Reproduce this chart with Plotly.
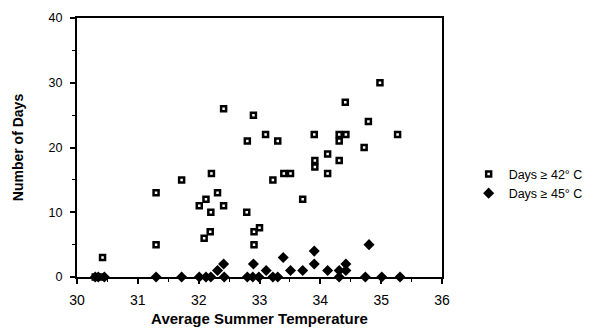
import plotly.graph_objects as go

# Days >= 42 C (open squares)
sq_temp = [30.3, 30.4, 30.42, 31.3, 31.3, 31.72, 32.01, 32.09, 32.12, 32.19, 32.2, 32.21,
           32.31, 32.41, 32.41, 32.79, 32.8, 32.9, 32.91, 32.91, 33.0, 33.1, 33.22, 33.3,
           33.4, 33.51, 33.71, 33.9, 33.91, 33.91, 34.12, 34.12, 34.31, 34.31, 34.31,
           34.41, 34.42, 34.72, 34.79, 34.98, 35.27]
sq_days = [0, 0, 3, 13, 5, 15, 11, 6, 12, 7, 10, 16,
           13, 11, 26, 10, 21, 25, 7, 5, 7.6, 22, 15, 21,
           16, 16, 12, 22, 18, 17, 19, 16, 22, 21, 18,
           27, 22, 20, 24, 30, 22]

# Days >= 45 C (filled diamonds)
dia_temp = [30.3, 30.35, 30.45, 31.3, 31.72, 32.01, 32.12, 32.2, 32.31, 32.41, 32.42,
            32.8, 32.89, 32.9, 32.99, 33.11, 33.22, 33.3, 33.39, 33.51, 33.71, 33.9,
            33.9, 34.12, 34.31, 34.31, 34.42, 34.42, 34.74, 34.8, 35.01, 35.31]
dia_days = [0, 0, 0, 0, 0, 0, 0, 0, 1, 2, 0,
            0, 0, 2, 0, 1, 0, 0, 3, 1, 1, 4,
            2, 1, 1, 0, 2, 1, 0, 5, 0, 0]

x_ticks = [30, 31, 32, 33, 34, 35, 36]
y_ticks = [0, 10, 20, 30, 40]

FONT = "Liberation Sans, Arial, Helvetica, sans-serif"

fig = go.Figure()
fig.add_trace(go.Scatter(
    x=sq_temp, y=sq_days, mode="markers", name="Days ≥ 42° C",
    legendgroup="a",
    marker=dict(symbol="square", size=5, color="white",
                line=dict(color="black", width=2.5)),
    cliponaxis=False,
))
fig.add_trace(go.Scatter(
    x=dia_temp, y=dia_days, mode="markers", name="Days ≥ 45° C",
    legendgroup="b",
    marker=dict(symbol="diamond", size=8.5, color="black",
                line=dict(color="black", width=0)),
    cliponaxis=False,
))

axis_common = dict(
    showgrid=False, zeroline=False, showline=True, linecolor="black", linewidth=2,
    mirror=True, ticks="outside", tickcolor="black", tickwidth=1.5, ticklen=5,
    automargin=False,
)

fig.update_xaxes(
    range=[30, 36], tickvals=x_ticks, ticktext=[str(v) for v in x_ticks],
    tickfont=dict(family=FONT, size=14, color="black"),
    ticklabelstandoff=4,
    title=dict(text="<b>Average Summer Temperature</b>",
               font=dict(family=FONT, size=15, color="black"), standoff=7),
    minor=dict(dtick=0.5, ticks="outside", ticklen=3, tickcolor="black", tickwidth=1.2),
    **axis_common,
)
fig.update_yaxes(
    range=[0, 40], tickvals=y_ticks,
    tickfont=dict(family=FONT, size=12.5, color="black"),
    ticklabelstandoff=5,
    title=dict(text="<b>Number of Days</b>",
               font=dict(family=FONT, size=14, color="black"), standoff=22),
    minor=dict(dtick=5, ticks="outside", ticklen=3, tickcolor="black", tickwidth=1.2),
    **axis_common,
)

fig.update_layout(
    width=609, height=331,
    margin=dict(l=77, r=167, t=18, b=54),
    paper_bgcolor="white", plot_bgcolor="white",
    showlegend=True,
    legend=dict(x=1.073, y=0.36, xanchor="left", yanchor="middle",
                font=dict(family=FONT, size=12.5, color="black"),
                traceorder="grouped", tracegroupgap=0,
                bgcolor="rgba(0,0,0,0)"),
)

fig.write_html("out.html", config={"displayModeBar": False},
               post_script="document.body.style.margin='0';")
